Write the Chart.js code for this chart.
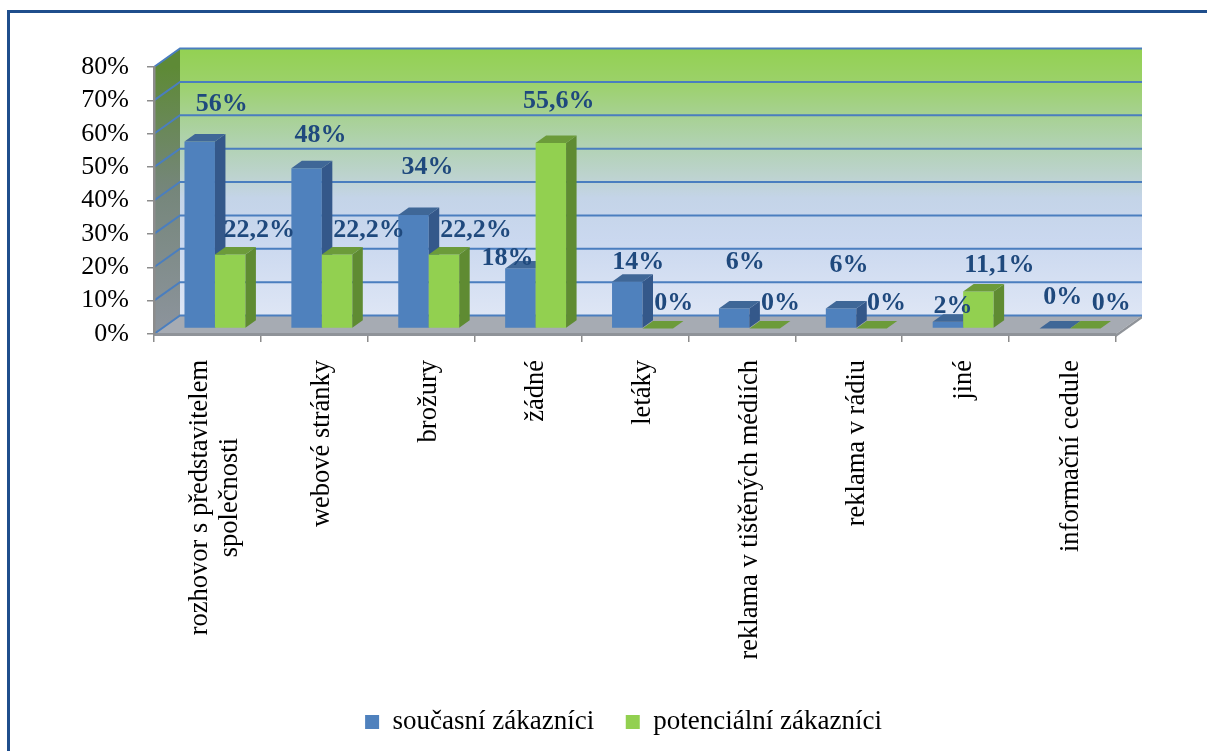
<!DOCTYPE html>
<html lang="cs">
<head>
    <meta charset="UTF-8">
    <title>Zdroje informací</title>
    <script src="https://cdn.jsdelivr.net/npm/chart.js@4.4.1/dist/chart.umd.min.js"></script>
    <style>
        body {
            margin: 0;
            background: #ffffff;
            overflow: hidden;
        }
        .frame {
            position: absolute;
            left: 7px;
            top: 10px;
            width: 1300px;
            height: 900px;
            border-left: 3px solid #1F4E8C;
            border-top: 3px solid #1F4E8C;
        }
        #chart {
            position: absolute;
            left: 0;
            top: 0;
        }
    </style>
</head>
<body>
    <div class="frame"></div>
    <canvas id="chart" width="1207" height="751"></canvas>

    <script>
        // data
        const categories = [
            ['rozhovor s představitelem', 'společnosti'],
            'webové stránky',
            'brožury',
            'žádné',
            'letáky',
            'reklama v tištěných médiích',
            'reklama v rádiu',
            'jiné',
            'informační cedule'
        ];
        const seriesNames = ['současní zákazníci', 'potenciální zákazníci'];
        const currentCustomers = [56, 48, 34, 18, 14, 6, 6, 2, 0];
        const potentialCustomers = [22.2, 22.2, 22.2, 55.6, 0, 0, 0, 11.1, 0];
        const yMin = 0, yMax = 80, yStep = 10;

        // label nudges [dx, dy] from the top of each bar
        const currentLabelShift = [[22, -37], [14, -33], [14, -48], [-13, -10], [11, -19], [11, -46], [8, -43], [5, -16], [8, -31]];
        const potentialLabelShift = [[29, -24], [32, -24], [32, -24], [8, -42], [16, -25], [16, -25], [15, -25], [21, -26], [26, -25]];

        // 3D geometry
        const DEPTH = { x: 26, y: -18.5 };
        const BAR_FRONT = { x: 7.5, y: -5.5 };
        const BAR_DEPTH = { x: 10.5, y: -7.5 };

        const barColors = [
            { front: '#4F81BD', side: '#34588A', top: '#3F6797' },
            { front: '#92D050', side: '#5F8B32', top: '#6C9B3A' }
        ];
        const wallStops = [
            [0, '#93D152'], [0.12, '#9BD168'], [0.24, '#A6D18F'], [0.36, '#B1D2B2'],
            [0.48, '#BDD3CF'], [0.56, '#C4D4E8'], [0.72, '#CAD8EF'], [1, '#DEE6F5']
        ];

        const SERIF = '"Liberation Serif", "Times New Roman", serif';

        function poly(ctx, pts, fill) {
            ctx.beginPath();
            ctx.moveTo(pts[0][0], pts[0][1]);
            for (let i = 1; i < pts.length; i++) ctx.lineTo(pts[i][0], pts[i][1]);
            ctx.closePath();
            ctx.fillStyle = fill;
            ctx.fill();
        }

        function fmtPct(v) {
            return String(v).replace('.', ',') + '%';
        }

        // back wall, side wall, floor and their gridlines
        function drawScene(chart) {
            const { ctx, chartArea: a } = chart;
            const y = chart.scales.y;
            const dx = DEPTH.x, dy = DEPTH.y;
            ctx.save();

            const g = ctx.createLinearGradient(0, a.top + dy, 0, a.bottom + dy);
            wallStops.forEach(([o, c]) => g.addColorStop(o, c));
            ctx.fillStyle = g;
            ctx.fillRect(a.left + dx, a.top + dy, a.right - a.left, a.bottom - a.top);

            const gs = ctx.createLinearGradient(0, a.top, 0, a.bottom);
            gs.addColorStop(0, '#5E8A36');
            gs.addColorStop(0.45, '#75867A');
            gs.addColorStop(1, '#8D949D');
            poly(ctx, [[a.left, a.top], [a.left + dx, a.top + dy], [a.left + dx, a.bottom + dy], [a.left, a.bottom]], gs);

            poly(ctx, [[a.left, a.bottom], [a.left + dx, a.bottom + dy], [a.right + dx, a.bottom + dy], [a.right, a.bottom]], '#A6ABB3');
            poly(ctx, [[a.right, a.bottom], [a.right + dx, a.bottom + dy], [a.right + dx, a.bottom + dy + 3], [a.right, a.bottom + 3]], '#8F9399');

            ctx.strokeStyle = '#4A7EBF';
            ctx.lineWidth = 2;
            y.ticks.forEach(t => {
                const py = y.getPixelForValue(t.value);
                ctx.beginPath();
                ctx.moveTo(a.left, py);
                ctx.lineTo(a.left + dx, py + dy);
                ctx.lineTo(a.right + dx, py + dy);
                ctx.stroke();
            });
            ctx.restore();
        }

        // bars as boxes, left to right
        function drawBars(chart) {
            const ctx = chart.ctx;
            const bx = BAR_DEPTH.x, by = BAR_DEPTH.y;
            ctx.save();
            categories.forEach((_, i) => {
                chart.data.datasets.forEach((ds, di) => {
                    const el = chart.getDatasetMeta(di).data[i];
                    const { x, y, base, width } = el.getProps(['x', 'y', 'base', 'width'], true);
                    const x0 = x - width / 2 + BAR_FRONT.x, x1 = x0 + width;
                    const y0 = y + BAR_FRONT.y, yb = base + BAR_FRONT.y;
                    const c = barColors[di];
                    if (yb - y0 > 0.5) {
                        ctx.fillStyle = c.front;
                        ctx.fillRect(x0, y0, width, yb - y0);
                        poly(ctx, [[x1, y0], [x1 + bx, y0 + by], [x1 + bx, yb + by], [x1, yb]], c.side);
                    }
                    poly(ctx, [[x0, y0], [x1, y0], [x1 + bx, y0 + by], [x0 + bx, y0 + by]], c.top);
                });
            });
            ctx.restore();
        }

        function drawValueLabels(chart) {
            const ctx = chart.ctx;
            const shifts = [currentLabelShift, potentialLabelShift];
            ctx.save();
            ctx.font = 'bold 26px ' + SERIF;
            ctx.fillStyle = '#1F497D';
            ctx.textAlign = 'center';
            ctx.textBaseline = 'middle';
            chart.data.datasets.forEach((ds, di) => {
                chart.getDatasetMeta(di).data.forEach((el, i) => {
                    const { x, y } = el.getProps(['x', 'y'], true);
                    const [sx, sy] = shifts[di][i];
                    ctx.fillText(fmtPct(ds.data[i]), x + BAR_FRONT.x + sx, y + BAR_FRONT.y + sy);
                });
            });
            ctx.restore();
        }

        // vertical category names under the floor
        function drawCategoryLabels(chart) {
            const ctx = chart.ctx;
            const xs = chart.scales.x;
            const lineH = 30;
            ctx.save();
            ctx.font = '26.5px ' + SERIF;
            ctx.fillStyle = '#000000';
            ctx.textAlign = 'center';
            ctx.textBaseline = 'middle';
            categories.forEach((lab, i) => {
                const lines = Array.isArray(lab) ? lab : [lab];
                const w = Math.max(...lines.map(l => ctx.measureText(l).width));
                const cx = xs.getPixelForValue(i) + 8;
                ctx.save();
                ctx.translate(cx, xs.top + 26 + w / 2);
                ctx.rotate(-Math.PI / 2);
                lines.forEach((l, k) => {
                    ctx.fillText(l, 0, (k - (lines.length - 1) / 2) * lineH);
                });
                ctx.restore();
            });
            ctx.restore();
        }

        const scene3d = {
            id: 'scene3d',
            beforeDraw: drawScene,
            beforeDatasetsDraw(chart) {
                drawBars(chart);
                return false;
            },
            afterDraw(chart) {
                drawValueLabels(chart);
                drawCategoryLabels(chart);
            }
        };

        Chart.defaults.font.family = SERIF;
        Chart.defaults.color = '#000000';

        new Chart(document.getElementById('chart'), {
            type: 'bar',
            data: {
                labels: categories,
                datasets: [
                    { label: seriesNames[0], data: currentCustomers, backgroundColor: barColors[0].front, borderWidth: 0 },
                    { label: seriesNames[1], data: potentialCustomers, backgroundColor: barColors[1].front, borderWidth: 0 }
                ]
            },
            options: {
                responsive: false,
                animation: false,
                events: [],
                categoryPercentage: 0.57,
                barPercentage: 1,
                layout: {
                    padding: { left: 40, top: 67, right: 0, bottom: 5.5 }
                },
                scales: {
                    x: {
                        grid: { offset: true, drawOnChartArea: false, tickLength: 8, color: '#8C8C8C', lineWidth: 1.5 },
                        border: { color: '#8F9399', width: 3 },
                        ticks: { display: false },
                        afterFit(s) { s.height = 343; }
                    },
                    y: {
                        min: yMin,
                        max: yMax,
                        grid: { drawOnChartArea: false, tickLength: 7, color: '#8C8C8C', lineWidth: 1.5 },
                        border: { color: '#8C8C8C', width: 2.5 },
                        ticks: {
                            stepSize: yStep,
                            autoSkip: false,
                            maxTicksLimit: 20,
                            padding: 18,
                            font: { size: 26 },
                            color: '#000000',
                            callback: v => v + '%'
                        },
                        afterFit(s) { s.width = 114; }
                    },
                    yRight: {
                        type: 'linear',
                        position: 'right',
                        grid: { display: false },
                        border: { display: false },
                        ticks: { display: false },
                        afterFit(s) { s.width = 91; }
                    }
                },
                plugins: {
                    tooltip: { enabled: false },
                    legend: {
                        position: 'bottom',
                        labels: {
                            boxWidth: 14,
                            boxHeight: 14,
                            padding: 31.5,
                            color: '#000000',
                            font: { size: 27 }
                        }
                    }
                }
            },
            plugins: [scene3d]
        });
    </script>
</body>
</html>
